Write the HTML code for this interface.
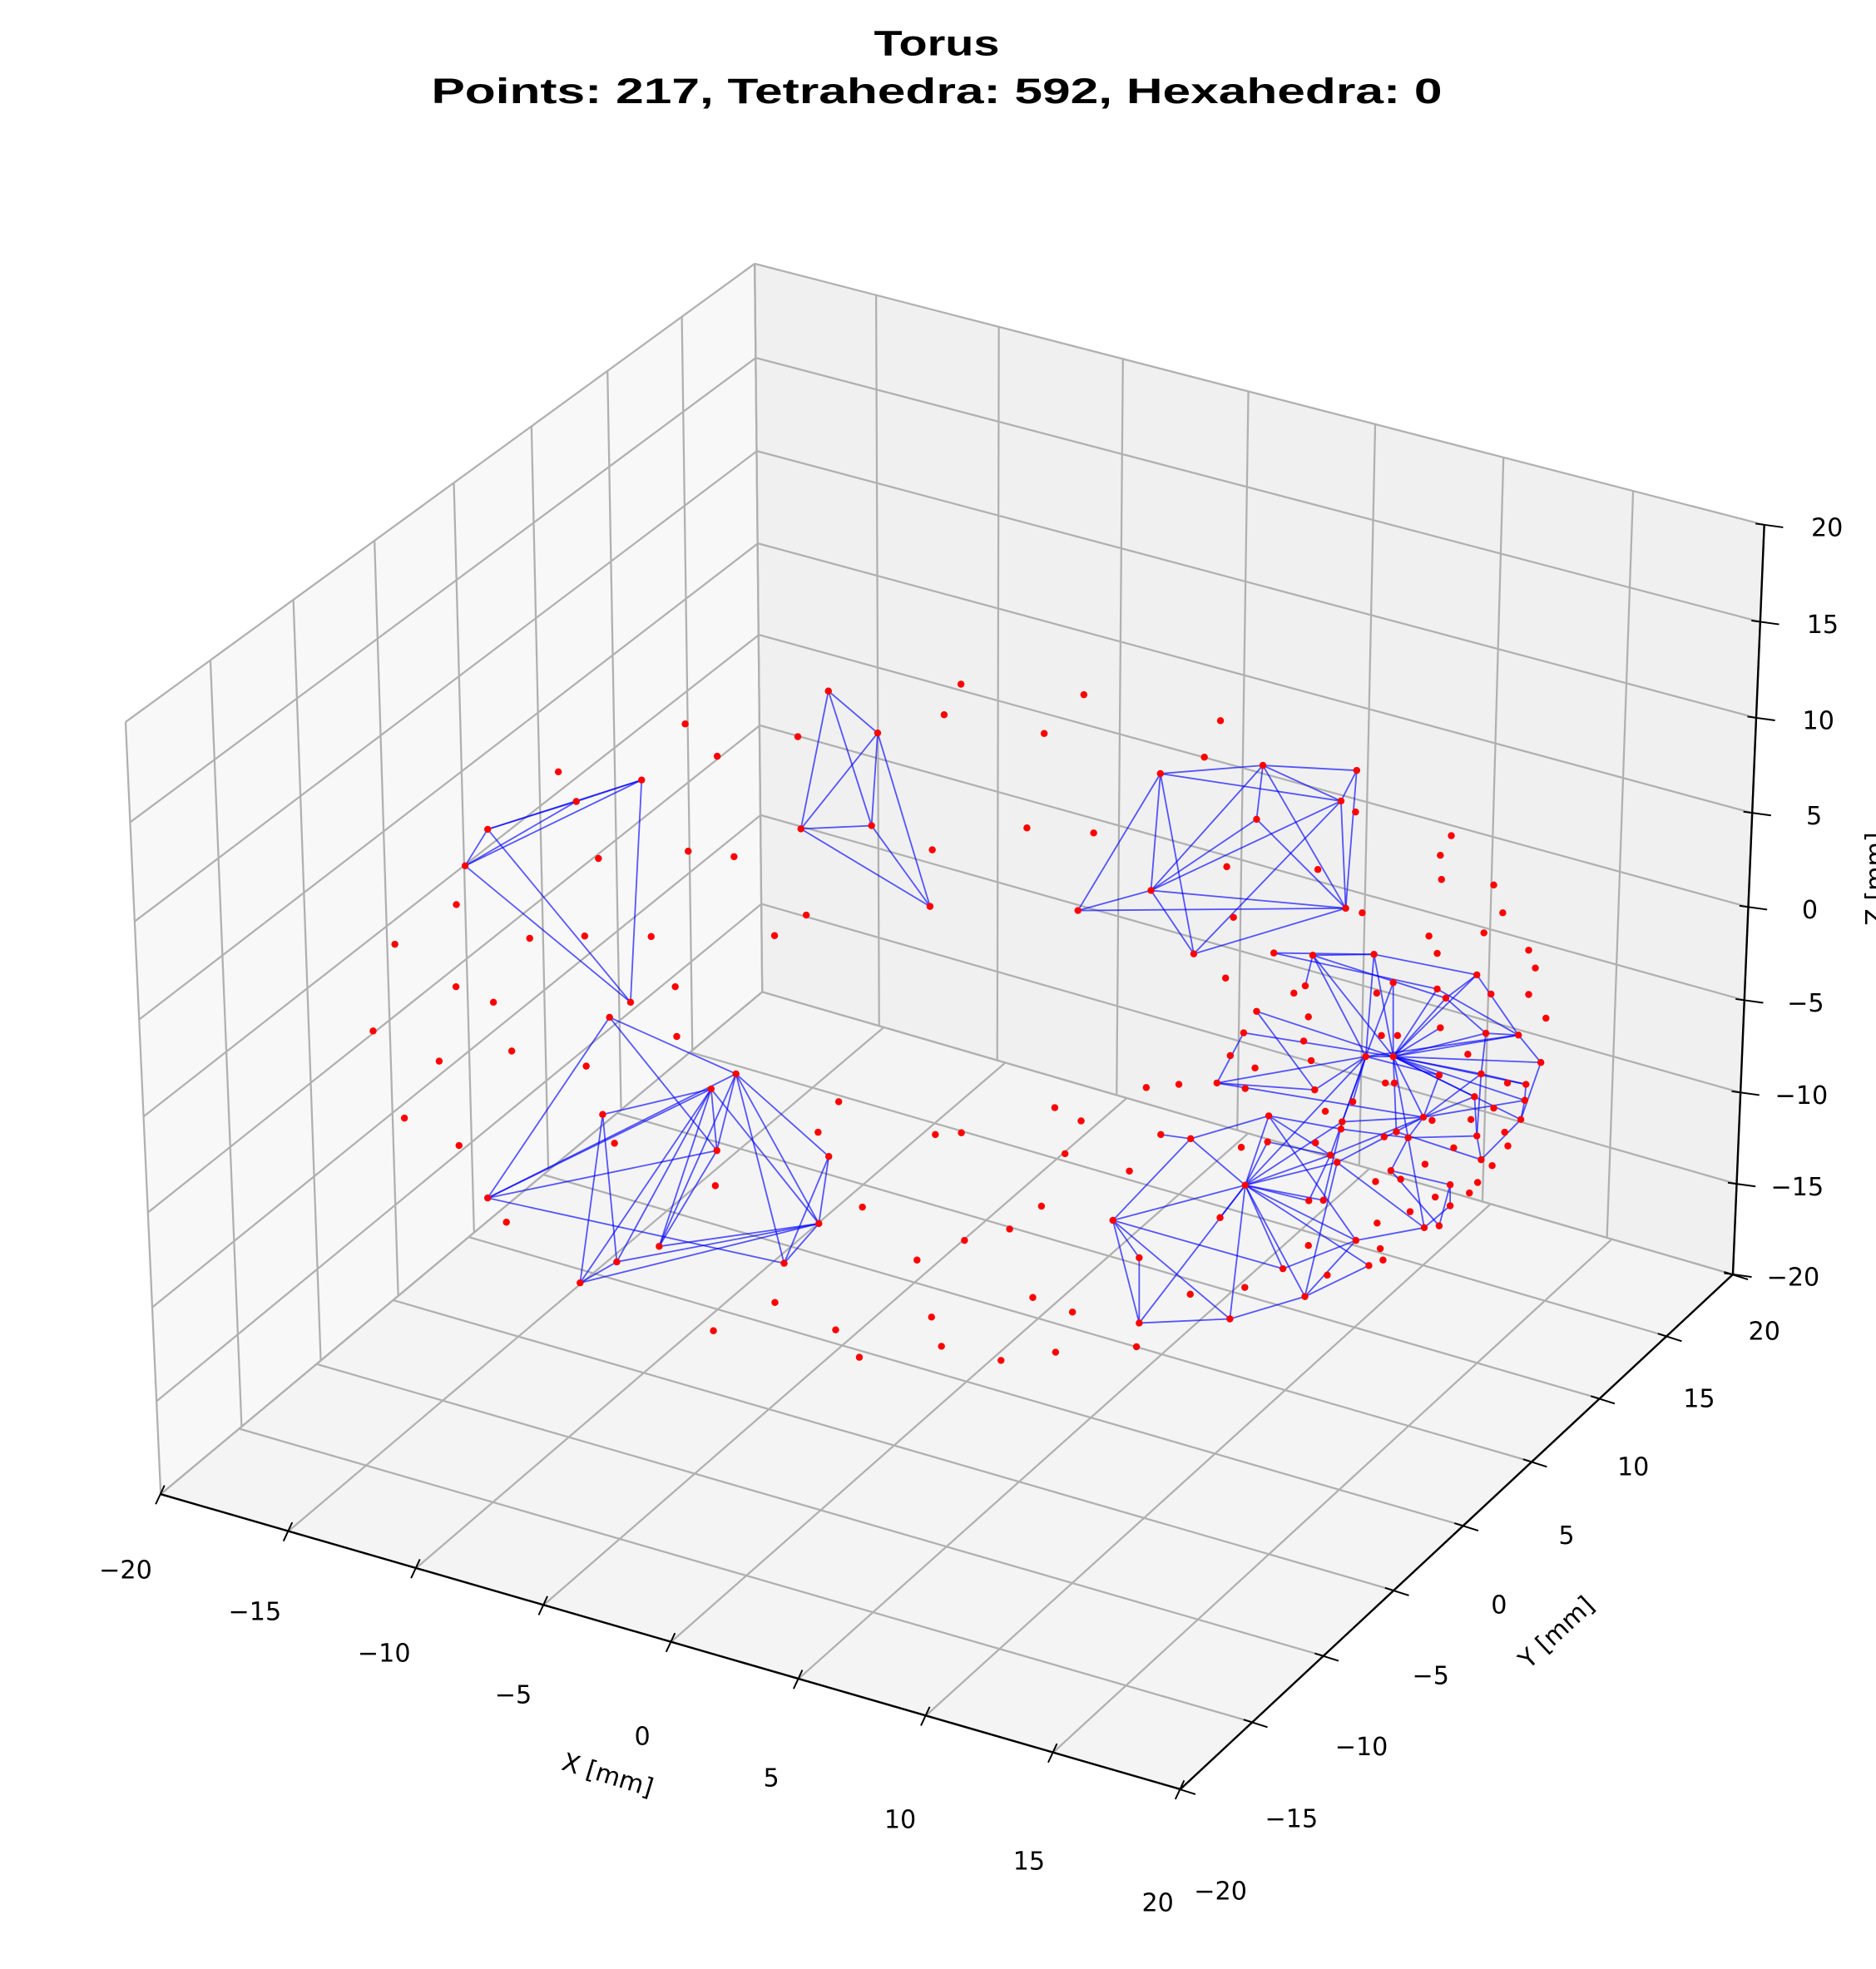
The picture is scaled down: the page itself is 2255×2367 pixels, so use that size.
<!DOCTYPE html>
<html><head><meta charset="utf-8"><title>Torus mesh</title>
<style>html,body{margin:0;padding:0;background:#fff}svg{display:block}</style></head>
<body>
<svg id="chart" width="2255" height="2367" viewBox="0 0 2255 2367" xmlns="http://www.w3.org/2000/svg">
<g id="root" transform="scale(1.5094)" font-family="'DejaVu Sans','Liberation Sans',sans-serif">
<text x="746" y="44" text-anchor="middle" font-size="28" font-weight="bold" font-family="'Liberation Sans',sans-serif" textLength="100" lengthAdjust="spacingAndGlyphs">Torus</text>
<text x="746" y="82" text-anchor="middle" font-size="28" font-weight="bold" font-family="'Liberation Sans',sans-serif" textLength="805" lengthAdjust="spacingAndGlyphs">Points: 217, Tetrahedra: 592, Hexahedra: 0</text>
<g id="panes"></g><g id="grid"></g><g id="axes"></g><g id="edges"></g><g id="pts"></g>
</g>
</svg>
<script>
// ---- axis data ----
const ticks = [-20,-15,-10,-5,0,5,10,15,20];
const tickLabels = ["\u221220","\u221215","\u221210","\u22125","0","5","10","15","20"];
// ---- mesh readings (two readout frames) ----
const setA_pts = [[765,251],[594,298],[362,359],[303,439],[736,738]];
const setA_edges = [[2,0],[2,1],[1,0],[3,0],[3,1],[2,3],[2,4],[3,4],[0,4]];
const setB_pts = [[1254,56],[1383,148],[1182,358],[1367,351],[1520,528]];
const setB_edges = [[0,2],[0,3],[0,1],[1,2],[1,3],[1,4],[2,3],[2,4],[3,4]];
const setC_pts = [[681,771],[1012,895],[947,928],[663,984],[962,1063],[362,1167],[1255,1076],[1229,1223],[811,1273],[700,1307],[1138,1310],[604,1353]];
const setC_edges = [[0,1],[0,5],[0,4],[1,5],[1,4],[1,8],[1,6],[1,7],[1,10],[2,3],[2,11],[2,9],[2,7],[3,9],[3,11],[5,4],[5,2],[5,10],[4,8],[8,7],[9,7],[11,7],[11,9],[6,7],[6,10],[7,10],[2,4],[2,8]];
const set1_dots = [[879,128],[963,199],[547,233],[1174,156],[1557,108],[652,423],[887,407],[1007,419],[1526,404],[280,524],[119,611],[472,598],[616,593],[790,594],[1196,547],[1113,592],[279,704],[377,738],[853,704],[62,801],[857,813],[235,867],[425,845],[620,878],[144,992],[287,1052],[694,1047],[958,1140],[411,1220],[1281,956],[1227,1023],[1534,1028],[1343,1187],[1486,1303],[1114,1396],[953,1458],[1273,1456],[1335,1516],[1524,1428],[1550,1492]];
const setD_pts = [[540,237],[801,219],[1040,230],[1000,297],[785,337],[516,493],[330,537],[1012,532],[625,632]];
const setD_edges = [[0,1],[0,5],[0,8],[0,6],[0,3],[1,5],[1,3],[1,4],[1,7],[2,3],[2,7],[1,2],[3,5],[3,7],[3,8],[4,5],[4,7],[5,7],[5,8],[6,5],[6,7],[8,7]];
const setE_pts = [[928,635],[1084,633],[829,630],[1133,695],[1267,729],[1346,678],[1245,709],[1063,857],[1133,857],[1452,810],[1509,870],[1369,806],[1357,895],[1471,918],[1468,953],[1458,995],[1340,945],[1210,990],[1250,898],[1171,1035],[1346,1031],[1357,1083],[1127,1107],[1278,1138],[1278,1184],[1212,1232],[684,915],[752,805],[785,758],[933,930],[816,987],[617,1037],[1003,1000],[1000,1016],[973,1073],[990,1089],[813,1044],[1030,956],[960,977],[756,1139],[419,1216],[486,1441],[717,1432],[908,1383],[852,1322],[1038,1260],[1071,1315],[918,1173],[955,1172],[692,1210],[486,1298],[541,1028],[1141,1022],[1424,915],[1253,794],[909,702],[1250,1228]];
const setE_edges = [[8,1],[8,3],[8,0],[8,4],[8,5],[8,9],[8,10],[8,11],[8,12],[8,13],[8,14],[8,15],[8,16],[8,17],[8,18],[8,19],[8,7],[8,52],[8,54],[8,6],
[7,1],[7,0],[7,32],[7,37],[7,39],[7,34],[7,26],[7,3],[7,9],[7,18],
[39,40],[39,31],[39,36],[39,30],[39,41],[39,42],[39,43],[39,44],[39,45],[39,46],[39,47],[39,48],[39,32],[39,35],[39,34],[39,49],
[40,31],[40,50],[40,41],[40,42],[40,44],
[41,42],[41,50],[42,43],[43,45],[43,46],[44,45],[45,30],[26,27],[26,29],[26,17],[31,30],[30,33],[30,34],[32,17],[33,19],[19,22],[19,25],[19,20],[19,17],[22,23],[23,24],[24,25],[20,21],[21,15],[15,10],[10,9],[9,11],[11,12],[12,13],[13,14],[14,15],[16,20],[16,17],[18,17],[0,1],[2,1],[0,55],[1,5],[5,4],[0,4],[28,8],[28,29],[29,7],[51,31],[36,34],[35,25],[35,17],[35,43],[47,34],[48,32],[34,17],[22,56],[56,23],[52,21],[45,25],[2,6],[5,9],[4,11],[17,12],[17,14],[12,20],[27,8],[6,9]];
const set2_dots = [[32,41],[345,64],[693,121],[244,149],[652,201],[200,356],[370,367],[709,441],[1037,321],[941,447],[726,552],[1054,542],[1281,373],[1253,416],[1256,469],[1389,481],[1412,542],[1364,586],[1224,593],[1245,631],[1478,624],[1495,663],[1478,721],[1382,720],[1522,773],[706,685],[880,718],[917,770],[1091,718],[1103,811],[1144,811],[905,823],[924,866],[781,882],[718,855],[756,927],[1323,852],[1113,915],[1136,915],[504,925],[587,918],[271,969],[338,998],[33,1024],[297,1070],[461,1108],[237,1185],[156,1235],[41,1260],[215,1385],[316,1417],[479,1493],[273,1505],[134,1523],[616,1378],[755,1363],[917,1271],[965,1336],[1092,1222],[1100,1278],[1107,1303],[1088,1131],[1152,1126],[1214,1093],[1240,1165],[1176,1197],[1327,1156],[1348,1133],[1385,1096],[1425,1053],[1417,1023],[1389,970],[1331,995],[1287,1057],[1232,997],[1110,1033],[935,1046],[746,1056]];

const NS = "http://www.w3.org/2000/svg";
function mk(tag, parent, attrs){const e=document.createElementNS(NS,tag);for(const k in attrs)e.setAttribute(k,attrs[k]);parent.appendChild(e);return e;}
function homog(q){
  const [x0,y0]=q[0],[x1,y1]=q[1],[x2,y2]=q[2],[x3,y3]=q[3];
  const dx1=x1-x2,dx2=x3-x2,dx3=x0-x1+x2-x3,dy1=y1-y2,dy2=y3-y2,dy3=y0-y1+y2-y3;
  const den=dx1*dy2-dx2*dy1;
  const g=(dx3*dy2-dx2*dy3)/den,h=(dx1*dy3-dx3*dy1)/den;
  const a=x1-x0+g*x1,b=x3-x0+h*x3,c=x0,d=y1-y0+g*y1,e=y3-y0+h*y3,f=y0;
  return (u,v)=>{const w=g*u+h*v+1;return [(a*u+b*v+c)/w,(d*u+e*v+f)/w];};
}
const t = v => (v+20)/40;
const floorH = homog([[128,1190],[940,1425],[1380,1015],[607,790]]);
const leftH  = homog([[128,1190],[607,790],[601,210],[100,575]]);
const backH  = homog([[607,790],[1380,1015],[1405,418],[601,210]]);
const xAxis = v => floorH(t(v),0);
const yAxis = v => floorH(1,t(v));
const zAxis = v => backH(1,t(v));

const panes=document.getElementById('panes');
[[leftH,'#f8f8f8','left-pane'],[backH,'#f0f0f0','back-pane'],[floorH,'#f4f4f4','floor-pane']].forEach(([H,col,name])=>{
  const p=[H(0,0),H(1,0),H(1,1),H(0,1)];
  const el=mk('polygon',panes,{points:p.map(q=>q.join(',')).join(' '),fill:col,stroke:'#d0d0d0','stroke-width':0.6});
  
  
});
const grid=document.getElementById('grid');
function gl(a,b,name){const el=mk('line',grid,{x1:a[0],y1:a[1],x2:b[0],y2:b[1],stroke:'#b0b0b0','stroke-width':1.5});
  
  }
ticks.forEach(v=>{const s=t(v);
  gl(floorH(s,0),floorH(s,1),'floor-gridline-x');
  gl(floorH(0,s),floorH(1,s),'floor-gridline-y');
  gl(leftH(s,0),leftH(s,1),'left-gridline-y');
  gl(leftH(0,s),leftH(1,s),'left-gridline-z');
  gl(backH(s,0),backH(s,1),'back-gridline-x');
  gl(backH(0,s),backH(1,s),'back-gridline-z');
});
const axes=document.getElementById('axes');
function axisLine(f,name){const a=f(-20),b=f(20);const el=mk('line',axes,{x1:a[0],y1:a[1],x2:b[0],y2:b[1],stroke:'#000','stroke-width':1.6});
  
  }
axisLine(xAxis,'x-axis-line');axisLine(yAxis,'y-axis-line');axisLine(zAxis,'z-axis-line');
function lerp(a,b,s){return [a[0]+(b[0]-a[0])*s,a[1]+(b[1]-a[1])*s];}
function drawTicks(f,tickA,tickB,offA,offB,name){
  ticks.forEach((v,i)=>{const p=f(v),s=t(v);
    const tk=mk('line',axes,{x1:p[0]+tickA[0],y1:p[1]+tickA[1],x2:p[0]+tickB[0],y2:p[1]+tickB[1],stroke:'#000','stroke-width':1.3});
    
    
    const o=lerp(offA,offB,s);
    const tx=mk('text',axes,{x:p[0]+o[0],y:p[1]+o[1]+7,'text-anchor':'middle','font-size':20,fill:'#000'});
    tx.textContent=tickLabels[i];
    
    
  });
}
drawTicks(xAxis,[3,-7],[-4,8],[-28,60],[-18,90],'x-axis');
drawTicks(yAxis,[-7,-2],[12,4],[32,81],[25,45],'y-axis');
drawTicks(zAxis,[-7,-1],[15,2],[48,2],[50,2],'z-axis');
function axTitle(txt,x,y,rot,name){const el=mk('text',axes,{x:x,y:y,'text-anchor':'middle','font-size':20,transform:`rotate(${rot} ${x} ${y})`});el.textContent=txt;
  
  }
axTitle('X [mm]',482,1420,17,'x-axis-title');
axTitle('Y [mm]',1244,1305,-43,'y-axis-title');
axTitle('Z [mm]',1500,700,-90,'z-axis-title');

const f1 = p => [(420+p[0]/2.178)/1.5094,(800+p[1]/1.823)/1.5094];
const f2 = p => [(1140+p[0]/2.119)/1.5094,(800+p[1]/1.823)/1.5094];
const edgesG=document.getElementById('edges'), ptsG=document.getElementById('pts');
function drawSet(pts,edges,f,name){
  edges.forEach(e=>{const a=f(pts[e[0]]),b=f(pts[e[1]]);
    const l=mk('line',edgesG,{x1:a[0],y1:a[1],x2:b[0],y2:b[1],stroke:'#0000ff','stroke-width':1.2,'stroke-opacity':0.65});
    
    
  });
  pts.forEach(p=>{const q=f(p);
    const c=mk('circle',ptsG,{cx:q[0],cy:q[1],r:2.8,fill:'#ff0000'});
    
    
  });
}
drawSet(setA_pts,setA_edges,f1,'cluster-a');
drawSet(setB_pts,setB_edges,f1,'cluster-b');
drawSet(setC_pts,setC_edges,f1,'cluster-c');
drawSet(set1_dots,[],f1,'free');
drawSet(setD_pts,setD_edges,f2,'cluster-d');
drawSet(setE_pts,setE_edges,f2,'cluster-e');
drawSet(set2_dots,[],f2,'free');
</script>
</body></html>
